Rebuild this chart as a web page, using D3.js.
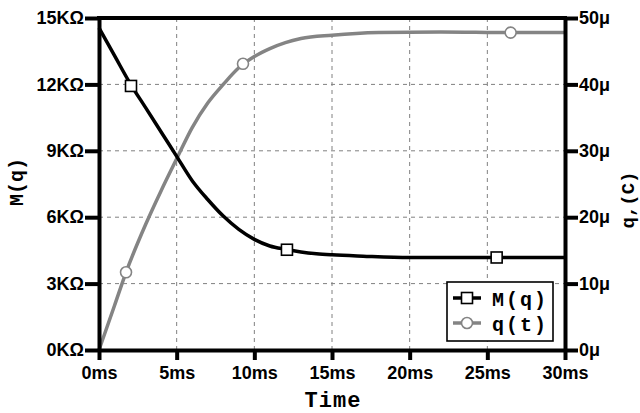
<!DOCTYPE html>
<html><head><meta charset="utf-8">
<script src="https://cdn.jsdelivr.net/npm/d3@7"></script>
<style>
html,body{margin:0;padding:0;background:#fff;}
svg{display:block;}
.tick text{font-family:"Liberation Sans",Arial,sans-serif;font-weight:bold;font-size:18px;fill:#000;}
.title{font-family:"Liberation Mono","Courier New",monospace;font-weight:bold;fill:#000;}
</style>
</head><body>
<svg id="chart" width="640" height="413"></svg>
<script>
// ---- data ----
const xTicks = [0, 5, 10, 15, 20, 25, 30];
const xTickLabels = ["0ms","5ms","10ms","15ms","20ms","25ms","30ms"];
const leftTicks = [0, 3, 6, 9, 12, 15];
const leftTickLabels = ["0KΩ","3KΩ","6KΩ","9KΩ","12KΩ","15KΩ"];
const rightTicks = [0, 10, 20, 30, 40, 50];
const rightTickLabels = ["0μ","10μ","20μ","30μ","40μ","50μ"];

// M(q) in KΩ vs time in ms
const mTime  = [0, 1, 2, 3, 4, 5, 6, 7, 8, 9, 10, 11, 12, 13, 14, 15, 17, 20, 25, 30];
const mValue = [14.55, 13.3, 12.05, 10.95, 9.85, 8.75, 7.65, 6.8, 6.05, 5.45, 5.0, 4.7, 4.55, 4.43, 4.35, 4.3, 4.24, 4.18, 4.18, 4.18];
const mMarkerTime  = [2.06, 12.1, 25.6];
const mMarkerValue = [11.93, 4.53, 4.18];

// q(t) in μC vs time in ms
const qTime  = [0, 1, 1.74, 3, 4, 5, 6, 7, 8, 9, 10, 11, 12, 13, 15, 18, 22, 26.5, 30];
const qValue = [0, 6.7, 11.7, 18.9, 24.0, 28.8, 33.5, 37.2, 40.0, 42.5, 44.2, 45.4, 46.3, 46.9, 47.4, 47.8, 47.9, 47.8, 47.8];
const qMarkerTime  = [1.74, 9.27, 26.5];
const qMarkerValue = [11.7, 43.1, 47.8];

const seriesNames = ["M(q)", "q(t)"];

// ---- layout ----
const svg = d3.select("#chart");
const L = 99, R = 565, T = 18, B = 350;
const x = d3.scaleLinear().domain([0, 30]).range([L, R]);
const yL = d3.scaleLinear().domain([0, 15]).range([B, T]);
const yR = d3.scaleLinear().domain([0, 50]).range([B, T]);

// grid
const grid = svg.append("g").attr("stroke", "#808080").attr("stroke-width", 1).attr("stroke-dasharray", "4,4");
xTicks.slice(1, -1).forEach(v => grid.append("line").attr("x1", x(v)).attr("x2", x(v)).attr("y1", T).attr("y2", B));
leftTicks.slice(1, -1).forEach(v => grid.append("line").attr("x1", L).attr("x2", R).attr("y1", yL(v)).attr("y2", yL(v)));

// curves
const mData = mTime.map((t, i) => [t, mValue[i]]);
const qData = qTime.map((t, i) => [t, qValue[i]]);
const lineM = d3.line().x(d => x(d[0])).y(d => yL(d[1])).curve(d3.curveMonotoneX);
const lineQ = d3.line().x(d => x(d[0])).y(d => yR(d[1])).curve(d3.curveMonotoneX);
svg.append("path").datum(qData).attr("d", lineQ).attr("fill", "none").attr("stroke", "#848484").attr("stroke-width", 3.5);
svg.append("path").datum(mData).attr("d", lineM).attr("fill", "none").attr("stroke", "#000").attr("stroke-width", 3.5);

// markers
mMarkerTime.forEach((t, i) => {
  svg.append("rect").attr("x", x(t) - 5.5).attr("y", yL(mMarkerValue[i]) - 5.5).attr("width", 11).attr("height", 11)
    .attr("fill", "#fff").attr("stroke", "#000").attr("stroke-width", 1.6);
});
qMarkerTime.forEach((t, i) => {
  svg.append("circle").attr("cx", x(t)).attr("cy", yR(qMarkerValue[i])).attr("r", 5.5)
    .attr("fill", "#fff").attr("stroke", "#848484").attr("stroke-width", 1.6);
});

// axes
function styleAxis(g) {
  g.select(".domain").attr("stroke", "#000").attr("stroke-width", 4);
  g.selectAll(".tick line").attr("stroke", "#000").attr("stroke-width", 4);
}
const ax = svg.append("g").attr("transform", `translate(0,${B})`)
  .call(d3.axisBottom(x).tickValues(xTicks).tickFormat((d, i) => xTickLabels[i]).tickSize(10).tickSizeOuter(0).tickPadding(6));
styleAxis(ax);
const al = svg.append("g").attr("transform", `translate(${L},0)`)
  .call(d3.axisLeft(yL).tickValues(leftTicks).tickFormat((d, i) => leftTickLabels[i]).tickSize(14).tickSizeOuter(0).tickPadding(1));
styleAxis(al);
const ar = svg.append("g").attr("transform", `translate(${R},0)`)
  .call(d3.axisRight(yR).tickValues(rightTicks).tickFormat((d, i) => rightTickLabels[i]).tickSize(13).tickSizeOuter(0).tickPadding(1));
styleAxis(ar);
// top frame
svg.append("line").attr("x1", L - 2).attr("x2", R + 2).attr("y1", T).attr("y2", T).attr("stroke", "#000").attr("stroke-width", 4);

// axis titles
svg.append("text").attr("class", "title").attr("x", 333).attr("y", 407).attr("text-anchor", "middle")
  .style("font-size", "22px").style("letter-spacing", "1px").text("Time");
svg.append("text").attr("class", "title").attr("transform", "translate(23,182) rotate(-90)").attr("text-anchor", "middle")
  .style("font-size", "20px").style("letter-spacing", "0px").text("M(q)");
svg.append("text").attr("class", "title").attr("transform", "translate(634,200) rotate(-90)").attr("text-anchor", "middle")
  .style("font-size", "19px").text("q,(C)");

// legend
const lg = svg.append("g");
lg.append("rect").attr("x", 447).attr("y", 282).attr("width", 106).attr("height", 59)
  .attr("fill", "#fff").attr("stroke", "#000").attr("stroke-width", 1.6);
const legY = [298, 323];
lg.append("line").attr("x1", 453).attr("x2", 481).attr("y1", legY[0]).attr("y2", legY[0]).attr("stroke", "#000").attr("stroke-width", 3.5);
lg.append("rect").attr("x", 467 - 5.5).attr("y", legY[0] - 5.5).attr("width", 11).attr("height", 11).attr("fill", "#fff").attr("stroke", "#000").attr("stroke-width", 1.6);
lg.append("line").attr("x1", 453).attr("x2", 481).attr("y1", legY[1]).attr("y2", legY[1]).attr("stroke", "#848484").attr("stroke-width", 3.5);
lg.append("circle").attr("cx", 467).attr("cy", legY[1]).attr("r", 5.5).attr("fill", "#fff").attr("stroke", "#848484").attr("stroke-width", 1.6);
seriesNames.forEach((n, i) => {
  lg.append("text").attr("class", "title").attr("x", 492).attr("y", legY[i] + 8)
    .style("font-size", "20px").style("letter-spacing", "2px").text(n);
});
</script>
</body></html>
